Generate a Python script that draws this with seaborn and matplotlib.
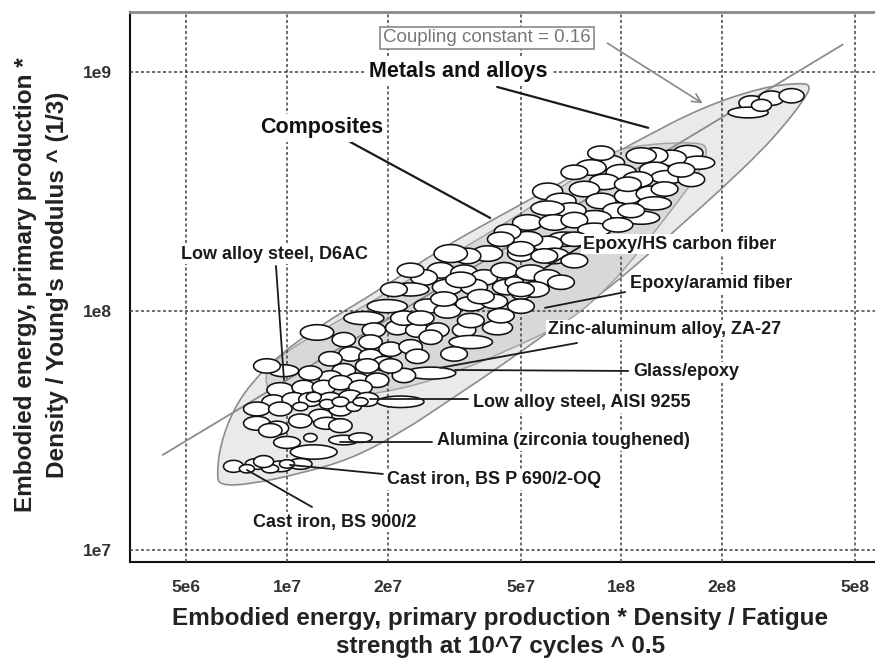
import numpy as np
import matplotlib
matplotlib.use("Agg")
import matplotlib.pyplot as plt
from matplotlib.ticker import LogLocator, NullFormatter
from matplotlib.path import Path
from matplotlib.patches import PathPatch
import seaborn as sns

# ---------------- data ----------------
x_ticks = [5e6, 1e7, 2e7, 5e7, 1e8, 2e8, 5e8]
x_tick_labels = ["5e6", "1e7", "2e7", "5e7", "1e8", "2e8", "5e8"]
y_ticks = [1e7, 1e8, 1e9]
y_tick_labels = ["1e7", "1e8", "1e9"]

# coupling-constant guide line (data units)
coupling_x = [4.25e6, 4.6e8]
coupling_y = [2.5e7, 1.3e9]

# envelope of "Metals and alloys" (log10 of data)
metals_env_logx = [6.79, 6.80, 6.84, 6.90, 6.98, 7.10, 7.28, 7.46, 7.64, 7.85, 8.06, 8.24, 8.42, 8.54, 8.57,
                   8.54, 8.49, 8.42, 8.30, 8.18, 8.06, 7.94, 7.79, 7.64, 7.49, 7.34, 7.19, 7.04, 6.89, 6.80]
metals_env_logy = [7.31, 7.44, 7.59, 7.71, 7.82, 7.94, 8.09, 8.26, 8.40, 8.56, 8.72, 8.85, 8.935, 8.955, 8.94,
                   8.87, 8.78, 8.67, 8.51, 8.36, 8.21, 8.07, 7.92, 7.77, 7.63, 7.49, 7.38, 7.32, 7.275, 7.27]

# envelope of "Composites" (log10 of data)
composites_env_logx = [6.95, 7.13, 7.34, 7.55, 7.76, 7.94, 8.01, 8.24, 8.26, 8.24, 8.15, 8.06, 7.97, 7.85,
                       7.70, 7.52, 7.34, 7.13, 6.98, 6.93]
composites_env_logy = [7.79, 7.94, 8.11, 8.28, 8.46, 8.63, 8.69, 8.71, 8.67, 8.59, 8.42, 8.26, 8.11, 7.96,
                       7.86, 7.75, 7.67, 7.63, 7.63, 7.69]

# material bubbles: centre (log10 of data) and extent (decades)
bubble_logx = [8.39, 8.45, 8.51, 8.38, 8.42, 8.20, 8.23, 8.15, 8.10, 8.06,
               7.96, 7.91, 8.00, 8.10, 8.14, 8.05, 7.95, 7.89, 7.78, 7.82,
               7.94, 8.02, 8.09, 8.10, 8.06, 7.99, 7.92, 7.85, 7.78, 7.72,
               7.80, 7.86, 7.92, 7.83, 7.78, 7.72, 7.66, 7.70, 7.80, 7.86,
               7.60, 7.54, 7.49, 7.46, 7.53, 7.59, 7.65, 7.73, 7.78, 7.48,
               7.56, 7.66, 7.74, 7.41, 7.52, 7.37, 7.42, 7.48, 7.55, 7.30,
               7.23, 7.09, 7.26, 7.33, 7.39, 7.45, 7.53, 7.63, 7.55, 7.43,
               7.25, 7.19, 7.25, 7.31, 7.37, 7.39, 7.29, 7.17, 7.13, 7.07,
               6.99, 7.21, 7.27, 7.43, 6.98, 7.05, 7.11, 7.24, 7.16, 7.22,
               6.96, 7.02, 7.07, 7.13, 7.19, 7.24, 7.34, 6.91, 6.98, 6.91,
               6.97, 7.10, 7.16, 7.12, 7.07, 7.17, 7.22, 7.08, 6.84, 6.91,
               6.98, 7.04, 6.94, 7.08, 7.12, 7.16, 7.20, 7.22, 7.04, 7.68,
               7.70, 6.88, 6.95, 7.00, 7.62, 7.70, 7.58, 7.35, 7.00, 7.86,
               8.02, 8.13, 8.21, 7.99, 7.86, 7.77, 8.03, 7.70, 7.64, 7.82,
               7.70, 7.47, 7.64, 7.55, 7.40, 7.32, 7.37, 7.17, 7.13, 7.50,
               7.35, 7.31, 6.95, 7.04, 7.16, 6.93, 7.94, 8.18]
bubble_logy = [8.87, 8.89, 8.90, 8.83, 8.86, 8.66, 8.62, 8.64, 8.65, 8.65,
               8.62, 8.60, 8.58, 8.59, 8.56, 8.55, 8.54, 8.51, 8.50, 8.46,
               8.46, 8.48, 8.49, 8.45, 8.39, 8.42, 8.39, 8.42, 8.43, 8.37,
               8.37, 8.38, 8.34, 8.30, 8.28, 8.30, 8.33, 8.24, 8.23, 8.21,
               8.24, 8.23, 8.24, 8.17, 8.16, 8.14, 8.17, 8.16, 8.14, 8.10,
               8.10, 8.10, 8.09, 8.14, 8.13, 8.09, 8.02, 8.00, 8.03, 8.02,
               7.97, 7.91, 7.92, 7.93, 7.92, 7.92, 7.92, 7.93, 7.87, 7.89,
               7.87, 7.82, 7.81, 7.84, 7.85, 7.81, 7.78, 7.75, 7.72, 7.74,
               7.75, 7.71, 7.71, 7.74, 7.67, 7.68, 7.68, 7.77, 7.70, 7.68,
               7.62, 7.63, 7.63, 7.63, 7.64, 7.63, 7.62, 7.59, 7.59, 7.53,
               7.51, 7.56, 7.59, 7.53, 7.47, 7.46, 7.47, 7.41, 7.35, 7.36,
               7.35, 7.36, 7.77, 7.64, 7.61, 7.62, 7.60, 7.62, 7.60, 8.12,
               8.07, 7.34, 7.34, 7.36, 8.04, 8.02, 8.06, 7.97, 7.45, 8.58,
               8.53, 8.51, 8.55, 8.36, 8.30, 8.23, 8.42, 8.26, 8.30, 8.12,
               8.09, 8.05, 7.98, 7.96, 7.97, 8.09, 8.17, 7.88, 7.80, 7.82,
               7.73, 7.77, 7.50, 7.54, 7.52, 7.37, 8.66, 8.59]
bubble_logw = [.075, .075, .075, .12, .06, .09, .10, .09, .08, .09,
               .10, .09, .09, .09, .10, .09, .09, .09, .09, .09,
               .09, .08, .09, .10, .11, .09, .10, .09, .10, .09,
               .09, .08, .10, .10, .09, .09, .08, .08, .09, .08,
               .09, .08, .10, .08, .08, .08, .08, .09, .08, .09,
               .08, .09, .09, .08, .09, .11, .08, .08, .09, .12,
               .12, .10, .07, .07, .07, .07, .07, .09, .13, .07,
               .07, .07, .07, .07, .07, .07, .07, .07, .07, .07,
               .09, .07, .07, .15, .08, .07, .07, .07, .07, .07,
               .07, .07, .07, .07, .07, .07, .14, .08, .07, .08,
               .07, .07, .07, .08, .04, .09, .07, .14, .06, .07,
               .07, .07, .08, .045, .045, .05, .045, .045, .045, .055,
               .055, .045, .05, .045, .08, .08, .08, .08, .08, .08,
               .08, .08, .08, .09, .08, .08, .08, .08, .08, .08,
               .08, .08, .08, .08, .08, .08, .08, .07, .07, .08,
               .07, .07, .07, .07, .07, .06, .08, .08]
bubble_logh = [.06, .06, .06, .045, .05, .065, .055, .065, .065, .065,
               .065, .065, .065, .065, .055, .065, .065, .065, .07, .065,
               .065, .065, .065, .055, .055, .065, .06, .065, .06, .065,
               .065, .065, .055, .06, .065, .065, .065, .065, .065, .06,
               .065, .065, .075, .065, .065, .065, .065, .065, .065, .065,
               .065, .065, .065, .065, .065, .055, .06, .06, .06, .055,
               .055, .065, .06, .06, .06, .06, .06, .06, .055, .06,
               .06, .06, .06, .06, .06, .06, .06, .06, .06, .06,
               .05, .06, .06, .05, .06, .06, .06, .06, .06, .06,
               .058, .058, .058, .058, .058, .058, .048, .058, .058, .058,
               .058, .058, .058, .05, .035, .04, .04, .06, .05, .045,
               .045, .045, .06, .04, .04, .04, .04, .035, .035, .045,
               .045, .035, .035, .035, .06, .06, .06, .06, .05, .06,
               .06, .06, .06, .06, .06, .06, .06, .06, .06, .06,
               .06, .06, .06, .06, .06, .06, .06, .06, .06, .06,
               .06, .06, .058, .058, .058, .05, .06, .06]

# annotation labels: text, anchor (log10 x, log10 y), leader line start/end (log10)
label_texts = ["Low alloy steel, D6AC", "Epoxy/HS carbon fiber", "Epoxy/aramid fiber",
               "Zinc-aluminum alloy, ZA-27", "Glass/epoxy", "Low alloy steel, AISI 9255",
               "Alumina (zirconia toughened)", "Cast iron, BS P 690/2-OQ", "Cast iron, BS 900/2"]
label_logx = [6.964, 7.886, 8.027, 7.781, 8.036, 7.557, 7.449, 7.299, 6.898]
label_logy = [8.238, 8.280, 8.113, 7.921, 7.745, 7.615, 7.456, 7.293, 7.117]
label_ha = ["center", "left", "left", "left", "left", "left", "left", "left", "left"]
leader_x0 = [6.967, 7.877, 8.012, 7.868, 8.021, 7.542, 7.434, 7.287, 7.075]
leader_y0 = [8.188, 8.268, 8.079, 7.866, 7.749, 7.632, 7.452, 7.318, 7.180]
leader_x1 = [6.991, 7.772, 7.772, 7.458, 7.503, 7.249, 7.159, 7.009, 6.880]
leader_y1 = [7.711, 8.180, 8.013, 7.762, 7.753, 7.632, 7.452, 7.356, 7.335]

group_texts = ["Metals and alloys", "Composites"]
group_logx = [7.512, 7.105]
group_logy = [9.000, 8.766]
group_x0 = [7.629, 7.189]
group_y0 = [8.937, 8.707]
group_x1 = [8.081, 7.608]
group_y1 = [8.766, 8.389]

coupling_label = "Coupling constant = 0.16"
coupling_label_pos = (7.599, 9.142)
coupling_arrow_from = (7.952, 9.126)
coupling_arrow_to = (8.251, 8.862)

x_label = "Embodied energy, primary production * Density / Fatigue\nstrength at 10^7 cycles ^ 0.5"
y_label = "Embodied energy, primary production *\nDensity / Young's modulus ^ (1/3)"


def smooth_closed_path(logx, logy):
    """Closed quadratic-Bezier path through the mid-points of the hull vertices."""
    px = 10 ** np.array(logx)
    py = 10 ** np.array(logy)
    n = len(px)
    mids = [((px[i] * px[(i + 1) % n]) ** 0.5, (py[i] * py[(i + 1) % n]) ** 0.5) for i in range(n)]
    verts = [mids[-1]]
    codes = [Path.MOVETO]
    for i in range(n):
        verts += [(px[i], py[i]), mids[i]]
        codes += [Path.CURVE3, Path.CURVE3]
    verts.append(mids[-1])
    codes.append(Path.CLOSEPOLY)
    return Path(verts, codes)


# ---------------- plot ----------------
sns.set_style("white")
plt.rcParams['font.family'] = ['Liberation Sans', 'DejaVu Sans']

fig = plt.figure(figsize=(8.75, 6.59), dpi=100)
ax = fig.add_axes([130 / 875, 97 / 659, 745 / 875, 550 / 659])
ax.set_xscale('log')
ax.set_yscale('log')
ax.set_xlim(3.39e6, 5.75e8)
ax.set_ylim(8.91e6, 1.78e9)

# envelopes
ax.add_patch(PathPatch(smooth_closed_path(metals_env_logx, metals_env_logy),
                       facecolor='#eaeaea', edgecolor='#8c8c8c', lw=1.2, zorder=1))
ax.add_patch(PathPatch(smooth_closed_path(composites_env_logx, composites_env_logy),
                       facecolor='#d8d8d8', edgecolor='#a0a0a0', lw=1.0, zorder=1.2))

# coupling line
sns.lineplot(x=coupling_x, y=coupling_y, ax=ax, color='#8c8c8c', lw=1.3, zorder=2.6)

# bubbles (ellipses in log space)
t = np.linspace(0, 2 * np.pi, 48)
for lx, ly, w, h in zip(bubble_logx, bubble_logy, bubble_logw, bubble_logh):
    xs = 10 ** (lx + 0.5 * w * np.cos(t))
    ys = 10 ** (ly + 0.5 * h * np.sin(t))
    ax.fill(xs, ys, facecolor='white', edgecolor='#111111', lw=1.15, zorder=3)

# ticks and grid
ax.set_axisbelow(False)
ax.set_xticks(x_ticks, labels=x_tick_labels, fontweight='bold')
ax.set_yticks(y_ticks, labels=y_tick_labels, fontweight='bold')
ax.xaxis.set_minor_locator(LogLocator(base=10, subs=np.arange(2, 10)))
ax.yaxis.set_minor_locator(LogLocator(base=10, subs=np.arange(2, 10)))
ax.xaxis.set_minor_formatter(NullFormatter())
ax.yaxis.set_minor_formatter(NullFormatter())
ax.grid(True, which='major', color='#444444', lw=1.1, ls=(0, (2, 1.6)))
ax.tick_params(axis='both', which='major', length=5, width=1.2, direction='out',
               labelsize=12.5, labelcolor='#333333', color='#222222', pad=8)
ax.tick_params(axis='both', which='minor', length=3, width=1.0, direction='out', color='#333333')

for s in ['left', 'bottom']:
    ax.spines[s].set_color('#111111')
    ax.spines[s].set_linewidth(1.5)
ax.spines['top'].set_color('#8a8a8a')
ax.spines['top'].set_linewidth(2.0)
ax.spines['right'].set_visible(False)

# leader lines and labels
for i, txt in enumerate(label_texts):
    ax.plot([10 ** leader_x0[i], 10 ** leader_x1[i]], [10 ** leader_y0[i], 10 ** leader_y1[i]],
            color='#1a1a1a', lw=1.3, zorder=4)
    ax.text(10 ** label_logx[i], 10 ** label_logy[i], txt, ha=label_ha[i], va='center',
            fontsize=13, fontweight='bold', color='#1a1a1a', zorder=5,
            bbox=dict(boxstyle='square,pad=0.1', fc='white', ec='none'))

for i, txt in enumerate(group_texts):
    ax.plot([10 ** group_x0[i], 10 ** group_x1[i]], [10 ** group_y0[i], 10 ** group_y1[i]],
            color='#1a1a1a', lw=1.6, zorder=4)
    ax.text(10 ** group_logx[i], 10 ** group_logy[i], txt, ha='center', va='center',
            fontsize=15.5, fontweight='bold', color='#111111', zorder=5,
            bbox=dict(boxstyle='square,pad=0.15', fc='white', ec='none'))

ax.text(10 ** coupling_label_pos[0], 10 ** coupling_label_pos[1], coupling_label,
        ha='center', va='center', fontsize=13.5, color='#777777', zorder=5,
        bbox=dict(boxstyle='square,pad=0.15', fc='white', ec='#8a8a8a', lw=1.2))
ax.annotate('', xy=(10 ** coupling_arrow_to[0], 10 ** coupling_arrow_to[1]),
            xytext=(10 ** coupling_arrow_from[0], 10 ** coupling_arrow_from[1]),
            arrowprops=dict(arrowstyle='->', color='#8a8a8a', lw=1.2, mutation_scale=16),
            zorder=5)

ax.set_xlabel(x_label, fontsize=17.5, fontweight='bold', color='#222222', linespacing=1.3)
ax.xaxis.set_label_coords(0.497, -0.082)
ax.set_ylabel(y_label, fontsize=17.5, fontweight='bold', color='#222222', linespacing=1.5)
ax.yaxis.set_label_coords(-0.082, 0.504)

fig.savefig("out.png", dpi=100)
